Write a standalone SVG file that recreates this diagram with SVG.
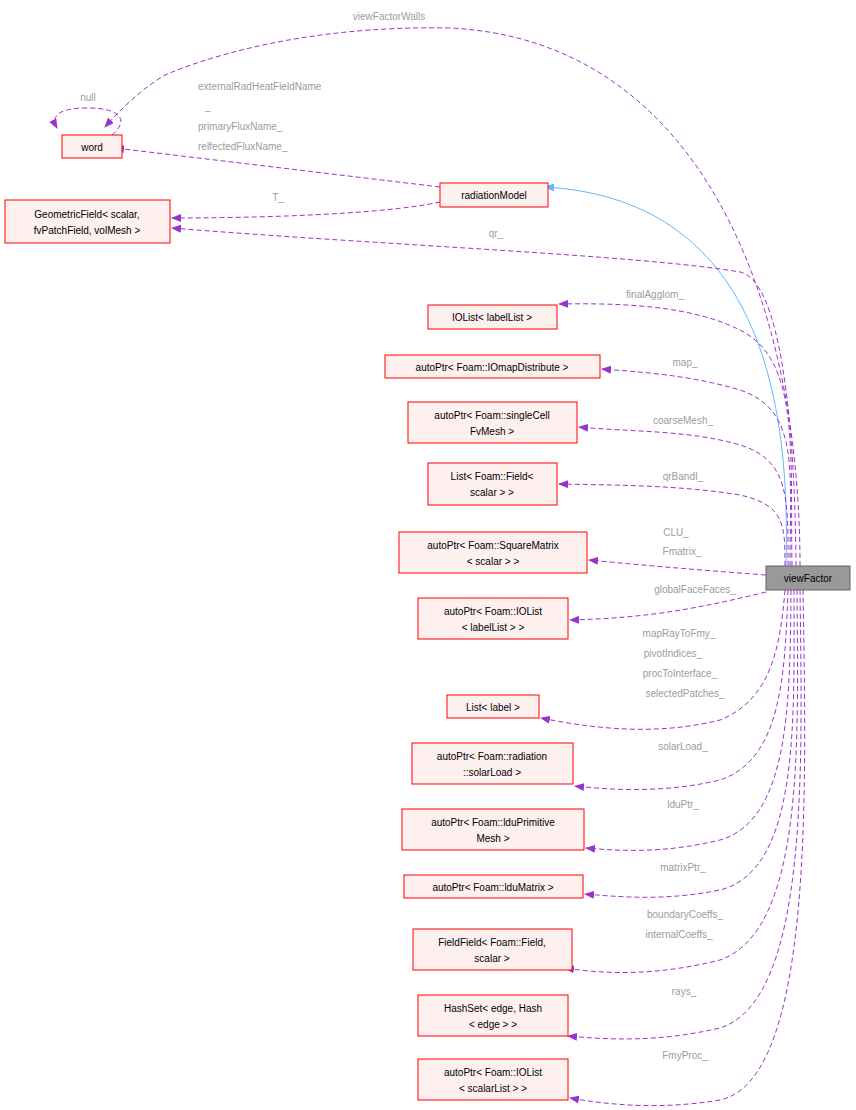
<svg xmlns="http://www.w3.org/2000/svg" width="856" height="1110" viewBox="0 0 856 1110">
<style>
.n rect{fill:#fff0f0;stroke:#ff0000;stroke-width:1}
text{font-family:"Liberation Sans",Arial,sans-serif;font-size:10px;fill:#000}
.l{fill:#9c9c9c}
.e{fill:none;stroke:#9a32cd;stroke-dasharray:5,3;stroke-width:1}
</style>
<defs>
<marker id="a" markerWidth="10" markerHeight="8" refX="9" refY="4" orient="auto" markerUnits="userSpaceOnUse"><path d="M0,0L10,4L0,8z" fill="#9a32cd"/></marker>
<marker id="b" markerWidth="10" markerHeight="8" refX="9" refY="4" orient="auto" markerUnits="userSpaceOnUse"><path d="M0,0L10,4L0,8z" fill="#63b8ff"/></marker>
</defs>
<rect width="856" height="1110" fill="#fff"/>
<g id="edges" text-anchor="middle">
<path d="M786,566C790,420 770,200 545,187" fill="none" stroke="#63b8ff" marker-end="url(#b)"/>
<path class="e" d="M800,566C800,300 700,40 450,28C300,25 200,60 165,75C140,90 120,110 105,127" marker-end="url(#a)"/>
<text class="l" x="389" y="20">viewFactorWalls</text>
<path class="e" d="M112,135C130,120 120,108 88,108C60,108 50,115 57,128" marker-end="url(#a)"/>
<text class="l" x="88" y="101">null</text>
<path class="e" d="M440,187L115,148" marker-end="url(#a)"/>
<text class="l" x="198" y="90" text-anchor="start">externalRadHeatFieldName</text>
<text class="l" x="205" y="110" text-anchor="start">_</text>
<text class="l" x="198" y="130" text-anchor="start">primaryFluxName_</text>
<text class="l" x="198" y="150" text-anchor="start">relfectedFluxName_</text>
<path class="e" d="M440,202C380,215 250,218 172,218" marker-end="url(#a)"/>
<text class="l" x="278" y="201">T_</text>
<path class="e" d="M796,566C795,420 780,280 740,272C640,255 380,245 172,228" marker-end="url(#a)"/>
<text class="l" x="496" y="237">qr_</text>
<path class="e" d="M792,566C790,450 800,360 740,330C690,305 620,303 559,304" marker-end="url(#a)"/>
<text class="l" x="655" y="298">finalAgglom_</text>
<path class="e" d="M790,566C790,470 800,410 740,390C690,375 640,372 602,369" marker-end="url(#a)"/>
<text class="l" x="685" y="366">map_</text>
<path class="e" d="M788,566C788,500 790,460 740,445C690,430 630,432 579,427" marker-end="url(#a)"/>
<text class="l" x="683" y="424">coarseMesh_</text>
<path class="e" d="M785,566C785,525 785,505 740,495C680,485 610,485 559,484" marker-end="url(#a)"/>
<text class="l" x="683" y="480">qrBandI_</text>
<path class="e" d="M766,575C700,570 650,566 589,560" marker-end="url(#a)"/>
<text class="l" x="676" y="536">CLU_</text>
<text class="l" x="682" y="555">Fmatrix_</text>
<path class="e" d="M766,592C700,608 650,618 570,620" marker-end="url(#a)"/>
<text class="l" x="695" y="593">globalFaceFaces_</text>
<path class="e" d="M785,590C780,650 770,700 720,720C660,735 600,730 541,718" marker-end="url(#a)"/>
<text class="l" x="679" y="637">mapRayToFmy_</text>
<text class="l" x="673" y="657">pivotIndices_</text>
<text class="l" x="680" y="677">procToInterface_</text>
<text class="l" x="685" y="697">selectedPatches_</text>
<path class="e" d="M788,590C785,680 780,760 720,780C670,792 620,791 575,786" marker-end="url(#a)"/>
<text class="l" x="683" y="750">solarLoad_</text>
<path class="e" d="M791,590C790,700 790,820 720,840C670,852 630,852 586,848" marker-end="url(#a)"/>
<text class="l" x="683" y="808">lduPtr_</text>
<path class="e" d="M794,590C794,720 800,870 720,890C670,900 630,898 585,894" marker-end="url(#a)"/>
<text class="l" x="683" y="871">matrixPtr_</text>
<path class="e" d="M797,590C798,740 805,930 720,960C660,975 610,975 565,968" marker-end="url(#a)"/>
<text class="l" x="685" y="918">boundaryCoeffs_</text>
<text class="l" x="679" y="938">internalCoeffs_</text>
<path class="e" d="M800,590C802,760 810,1000 720,1028C660,1042 610,1040 568,1036" marker-end="url(#a)"/>
<text class="l" x="684" y="995">rays_</text>
<path class="e" d="M803,590C806,780 815,1080 720,1100C660,1110 610,1105 570,1098" marker-end="url(#a)"/>
<text class="l" x="685" y="1059">FmyProc_</text>
</g>
<g id="viewFactor"><rect x="766" y="566" width="84" height="24" fill="#999" stroke="#666"/><text x="808" y="582" text-anchor="middle">viewFactor</text></g>
<g class="n" text-anchor="middle">
<g id="word"><rect x="62" y="135" width="60" height="23"/><text x="92" y="151">word</text></g>
<g id="geo"><rect x="5" y="200" width="165" height="43"/><text x="87" y="218">GeometricField&lt; scalar,</text><text x="87" y="234">fvPatchField, volMesh &gt;</text></g>
<g id="radiationModel"><rect x="440" y="183" width="108" height="24"/><text x="494" y="199">radiationModel</text></g>
<g id="n1"><rect x="428" y="305" width="129" height="24"/><text x="492" y="321">IOList&lt; labelList &gt;</text></g>
<g id="n2"><rect x="385" y="355" width="215" height="23"/><text x="492" y="371">autoPtr&lt; Foam::IOmapDistribute &gt;</text></g>
<g id="n3"><rect x="408" y="402" width="169" height="41"/><text x="492" y="419">autoPtr&lt; Foam::singleCell</text><text x="492" y="435">FvMesh &gt;</text></g>
<g id="n4"><rect x="428" y="463" width="129" height="42"/><text x="492" y="480">List&lt; Foam::Field&lt;</text><text x="492" y="496">scalar &gt; &gt;</text></g>
<g id="n5"><rect x="399" y="532" width="188" height="41"/><text x="493" y="549">autoPtr&lt; Foam::SquareMatrix</text><text x="493" y="565">&lt; scalar &gt; &gt;</text></g>
<g id="n6"><rect x="418" y="598" width="150" height="41"/><text x="493" y="615">autoPtr&lt; Foam::IOList</text><text x="493" y="631">&lt; labelList &gt; &gt;</text></g>
<g id="n7"><rect x="447" y="695" width="92" height="23"/><text x="493" y="711">List&lt; label &gt;</text></g>
<g id="n8"><rect x="412" y="743" width="161" height="41"/><text x="492" y="760">autoPtr&lt; Foam::radiation</text><text x="492" y="776">::solarLoad &gt;</text></g>
<g id="n9"><rect x="402" y="809" width="182" height="41"/><text x="493" y="826">autoPtr&lt; Foam::lduPrimitive</text><text x="493" y="842">Mesh &gt;</text></g>
<g id="n10"><rect x="404" y="875" width="179" height="23"/><text x="493" y="891">autoPtr&lt; Foam::lduMatrix &gt;</text></g>
<g id="n11"><rect x="413" y="929" width="159" height="41"/><text x="492" y="946">FieldField&lt; Foam::Field,</text><text x="492" y="962">scalar &gt;</text></g>
<g id="n12"><rect x="418" y="995" width="150" height="41"/><text x="493" y="1012">HashSet&lt; edge, Hash</text><text x="493" y="1028">&lt; edge &gt; &gt;</text></g>
<g id="n13"><rect x="418" y="1059" width="150" height="41"/><text x="493" y="1076">autoPtr&lt; Foam::IOList</text><text x="493" y="1092">&lt; scalarList &gt; &gt;</text></g>
</g>
</svg>
